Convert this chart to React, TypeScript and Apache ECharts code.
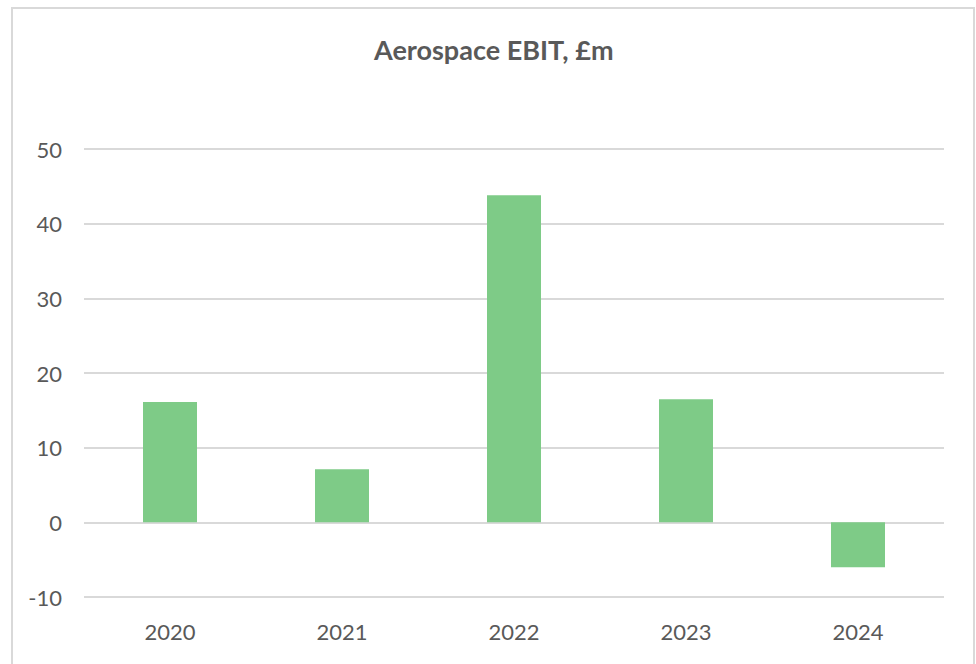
import React, { useEffect, useRef } from "react";
import * as echarts from "echarts";

const categories = ["2020", "2021", "2022", "2023", "2024"];
const ebitValues = [16.1, 7.1, 43.8, 16.5, -6.0];
const yTicks = { min: -10, max: 50, interval: 10 };
const titleText = "Aerospace EBIT, £m";

export default function App() {
  const ref = useRef<HTMLDivElement>(null);
  useEffect(() => {
    if (!ref.current) return;
    const chart = echarts.init(ref.current, undefined, { renderer: "svg" });
    chart.setOption({
      animation: false,
      backgroundColor: "#ffffff",
      textStyle: { fontFamily: "Lato" },
      title: {
        text: titleText,
        left: 369,
        top: 31,
        textStyle: { fontFamily: "Lato", fontWeight: "bold", fontSize: 27, color: "#595959" },
      },
      graphic: [
        {
          type: "rect",
          shape: { x: 12, y: 8, width: 962, height: 670 },
          style: { fill: "none", stroke: "#d9d9d9", lineWidth: 2 },
          silent: true,
        },
      ],
      grid: { left: 84, right: 32, top: 149, bottom: 67, containLabel: false },
      xAxis: {
        type: "category",
        data: categories,
        axisLine: { show: false },
        axisTick: { show: false },
        axisLabel: { color: "#595959", fontSize: 22, margin: 23, fontFamily: "Lato" },
      },
      yAxis: {
        type: "value",
        min: yTicks.min,
        max: yTicks.max,
        interval: yTicks.interval,
        axisLine: { show: false },
        axisTick: { show: false },
        splitLine: { lineStyle: { color: "#d9d9d9", width: 2 } },
        axisLabel: { color: "#595959", fontSize: 22, margin: 22, fontFamily: "Lato" },
      },
      series: [
        {
          type: "bar",
          data: ebitValues,
          barWidth: 54,
          itemStyle: { color: "#7ECB87" },
        },
      ],
    });
    return () => chart.dispose();
  }, []);
  return (
    <div style={{ position: "fixed", left: 0, top: 0, width: 976, height: 664 }}>
      <div ref={ref} style={{ width: 976, height: 664 }} />
    </div>
  );
}
